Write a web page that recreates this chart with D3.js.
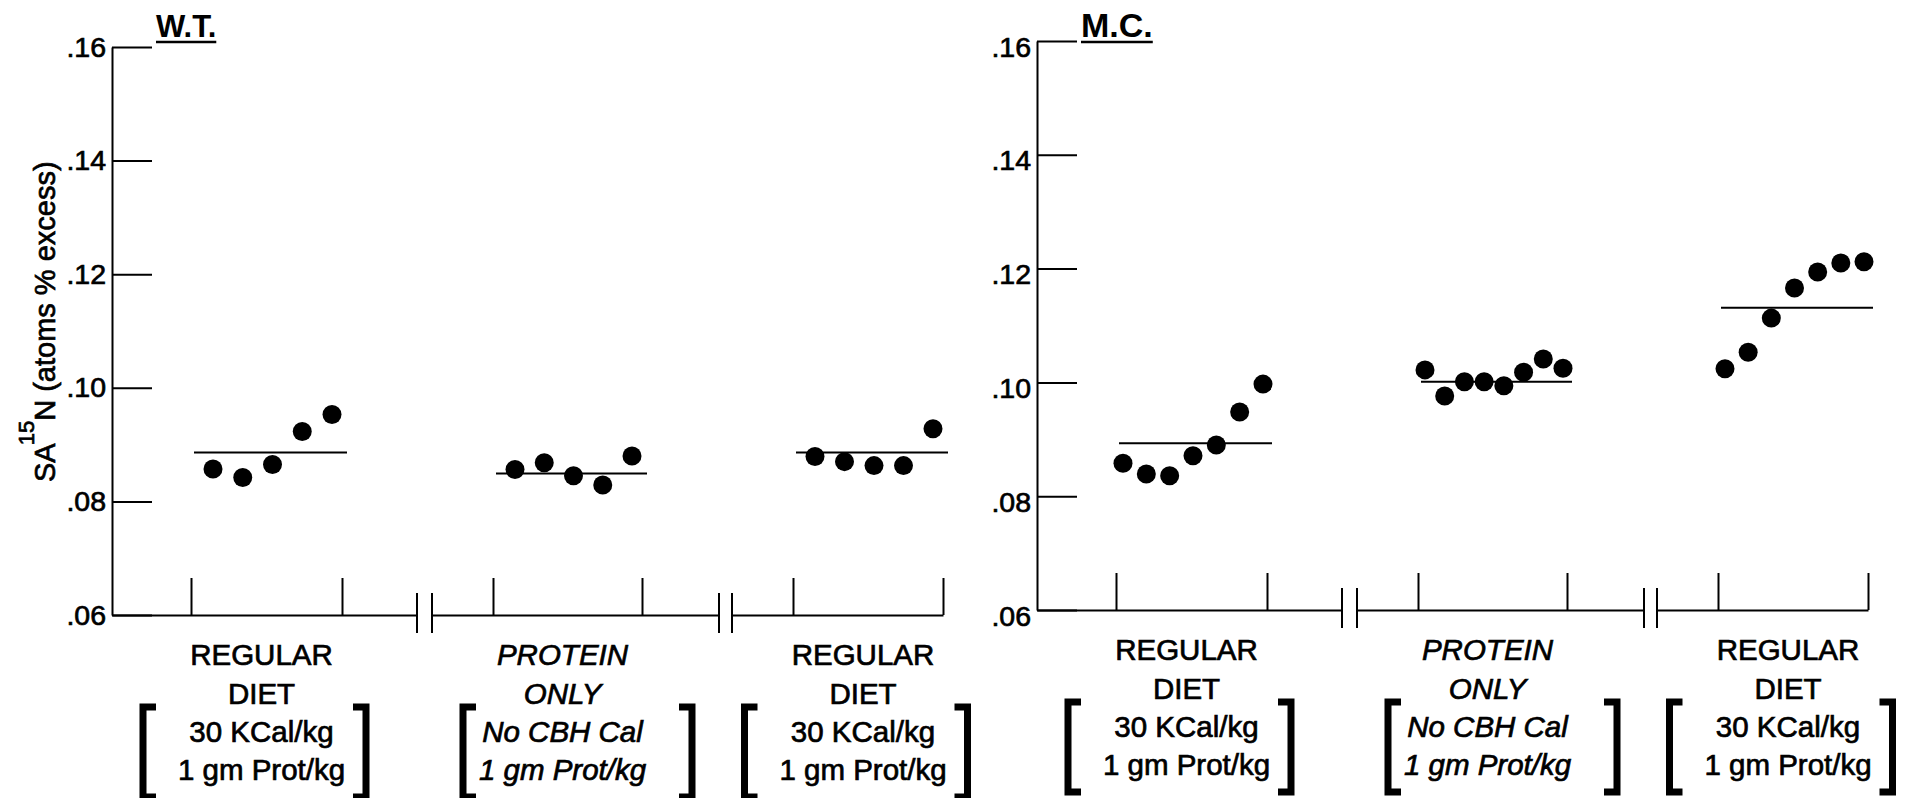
<!DOCTYPE html>
<html>
<head>
<meta charset="utf-8">
<script src="https://cdn.jsdelivr.net/npm/d3@7"></script>
<style>
  html, body { margin: 0; padding: 0; background: #fff; }
  svg { display: block; }
  text { font-family: "Liberation Sans", Arial, Helvetica, sans-serif; fill: #000; }
</style>
</head>
<body>
<svg id="chart" width="1906" height="798"></svg>
<script>
// ---------- data ----------
const yTickValues = [0.06, 0.08, 0.10, 0.12, 0.14, 0.16];
const groupTitles = ["W.T.", "M.C."];
const periodHeadings = [["REGULAR", "DIET"], ["PROTEIN", "ONLY"], ["REGULAR", "DIET"]];
const periodIntake = [["30 KCal/kg", "1 gm Prot/kg"], ["No CBH Cal", "1 gm Prot/kg"], ["30 KCal/kg", "1 gm Prot/kg"]];
const periodItalic = [false, true, false];

// SA 15N (atoms % excess), successive samples in each diet period
const wtRegularA = [0.0857, 0.0842, 0.0865, 0.0923, 0.0953];
const wtProtein  = [0.0856, 0.0868, 0.0845, 0.0829, 0.0880];
const wtRegularB = [0.0879, 0.0870, 0.0863, 0.0863, 0.0928];
const wtMeans    = [0.0886, 0.0849, 0.0886];

const mcRegularA = [0.0858, 0.0839, 0.0836, 0.0871, 0.0890, 0.0948, 0.0997];
const mcProtein  = [0.1022, 0.0976, 0.1001, 0.1001, 0.0994, 0.1018, 0.1041, 0.1025];
const mcRegularB = [0.1024, 0.1053, 0.1113, 0.1166, 0.1194, 0.1210, 0.1212];
const mcMeans    = [0.0893, 0.1001, 0.1131];

// ---------- layout ----------
const panels = [
  { title: groupTitles[0], series: [wtRegularA, wtProtein, wtRegularB], means: wtMeans,
    left: 112, top: 47, bottom: 615, titleSize: 31, dotInset: [22, -10], labelDy: 0 },
  { title: groupTitles[1], series: [mcRegularA, mcProtein, mcRegularB], means: mcMeans,
    left: 1037, top: 41, bottom: 610, titleSize: 34, dotInset: [7, -4], labelDy: 6 }
];
// broken x axis: each period is its own piece, offsets from the y axis
const pieces = [
  { start: 0,   t0: 79,  t1: 230, end: 305 },
  { start: 320, t0: 381, t1: 530, end: 607 },
  { start: 620, t0: 681, t1: 831, end: 831 }
];
const tickLen = 40, xTickLen = 37;
const lineRows = [50, 89, 127, 165];
const labelSize = 29.5;
const inkStroke = 0.7;   // printed type is a little heavier than the plain face

const svg = d3.select("#chart");
svg.append("rect").attr("width", 1906).attr("height", 798).attr("fill", "#fff");

const fmt = d => d3.format(".2f")(d).replace(/^0/, "");

panels.forEach(p => {
  const g = svg.append("g");
  const y = d3.scaleLinear().domain([0.06, 0.16]).range([p.bottom, p.top]);

  // y axis with inward ticks
  const ya = g.append("g")
    .attr("transform", `translate(${p.left},0)`)
    .call(d3.axisLeft(y).tickValues(yTickValues).tickSizeInner(-tickLen).tickSizeOuter(0)
      .tickPadding(6).tickFormat(fmt));
  ya.select(".domain").attr("stroke", "#000").attr("stroke-width", 2);
  ya.selectAll(".tick line").attr("stroke", "#000").attr("stroke-width", 2);
  ya.selectAll(".tick text")
    .attr("font-size", 28.5)
    .attr("font-family", "'Liberation Sans', Arial, Helvetica, sans-serif")
    .attr("fill", "#000")
    .attr("stroke", "#000").attr("stroke-width", inkStroke)
    .attr("dy", (0.32 * 28.5 + p.labelDy) + "px");

  // panel title, underlined
  const t = g.append("text")
    .attr("x", p.left + 44).attr("y", 37)
    .attr("font-size", p.titleSize).attr("font-weight", "bold")
    .text(p.title);
  const bb = t.node().getBBox();
  g.append("line")
    .attr("x1", bb.x).attr("x2", bb.x + bb.width)
    .attr("y1", 42).attr("y2", 42)
    .attr("stroke", "#000").attr("stroke-width", 2.5);

  pieces.forEach((s, i) => {
    const xs = d3.scaleLinear().domain([s.start, s.end]).range([p.left + s.start, p.left + s.end]);
    const xa = g.append("g")
      .attr("transform", `translate(0,${p.bottom})`)
      .call(d3.axisBottom(xs).tickValues([s.t0, s.t1]).tickSizeInner(-xTickLen).tickSizeOuter(0).tickFormat(""));
    xa.select(".domain").attr("stroke", "#000").attr("stroke-width", 2);
    xa.selectAll(".tick line").attr("stroke", "#000").attr("stroke-width", 2);

    // break marks
    const breaks = [];
    if (i > 0) breaks.push(s.start);
    if (i < pieces.length - 1) breaks.push(s.end);
    g.selectAll(null).data(breaks).enter().append("line")
      .attr("x1", d => xs(d)).attr("x2", d => xs(d))
      .attr("y1", p.bottom - 22).attr("y2", p.bottom + 18)
      .attr("stroke", "#000").attr("stroke-width", 2);

    // mean line
    g.append("line")
      .attr("x1", xs(s.t0) + 3).attr("x2", xs(s.t1) + 5)
      .attr("y1", y(p.means[i])).attr("y2", y(p.means[i]))
      .attr("stroke", "#000").attr("stroke-width", 2);

    // samples
    const vals = p.series[i];
    const xd = d3.scaleLinear().domain([0, vals.length - 1])
      .range([xs(s.t0) + p.dotInset[0], xs(s.t1) + p.dotInset[1]]);
    g.selectAll(null).data(vals).enter().append("circle")
      .attr("cx", (d, k) => xd(k)).attr("cy", d => y(d))
      .attr("r", 9.5).attr("fill", "#000");

    // period labels
    const mid = (xs(s.t0) + xs(s.t1)) / 2;
    const cx = mid - 5;
    const lines = periodHeadings[i].concat(periodIntake[i]);
    g.selectAll(null).data(lines).enter().append("text")
      .attr("x", cx).attr("y", (d, k) => p.bottom + lineRows[k])
      .attr("text-anchor", "middle").attr("font-size", labelSize)
      .attr("stroke", "#000").attr("stroke-width", inkStroke)
      .attr("font-style", periodItalic[i] ? "italic" : "normal")
      .text(d => d);

    // brackets round the intake lines
    const bc = periodItalic[i] ? mid + 10 : mid - 12;
    const hw = periodItalic[i] ? 118 : 115;
    const bTop = p.bottom + 92, bBot = p.bottom + 182, arm = 13, sw = 7;
    const bx0 = bc - hw + sw / 2, bx1 = bc + hw - sw / 2;
    g.append("path")
      .attr("d", `M${bx0 + arm},${bTop} H${bx0} V${bBot} H${bx0 + arm}`)
      .attr("fill", "none").attr("stroke", "#000").attr("stroke-width", sw);
    g.append("path")
      .attr("d", `M${bx1 - arm},${bTop} H${bx1} V${bBot} H${bx1 - arm}`)
      .attr("fill", "none").attr("stroke", "#000").attr("stroke-width", sw);
  });
});

// y-axis title
const yl = svg.append("text")
  .attr("transform", "translate(55,482) rotate(-90)")
  .attr("font-size", 29)
  .attr("stroke", "#000").attr("stroke-width", inkStroke);
yl.append("tspan").text("SA");
yl.append("tspan").attr("font-size", 22).attr("dx", -2).attr("dy", -21).text("15");
yl.append("tspan").attr("dy", 21).text("N (atoms % excess)");
</script>
</body>
</html>
